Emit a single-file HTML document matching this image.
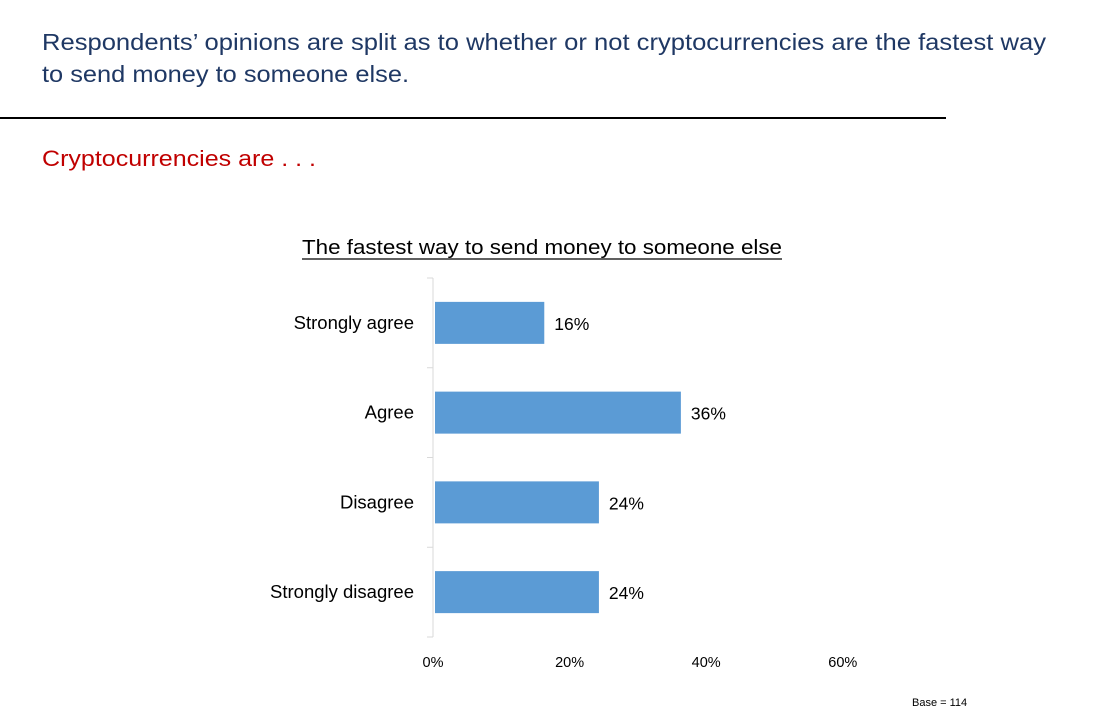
<!DOCTYPE html>
<html><head><meta charset="utf-8"><style>
html,body{margin:0;padding:0;background:#fff;width:1108px;height:728px;overflow:hidden}
svg{display:block;font-family:"Liberation Sans",sans-serif}
</style></head><body>
<svg id="s" width="1108" height="728">
<text x="42" y="50" font-size="23" fill="#1F3864" textLength="1004" lengthAdjust="spacingAndGlyphs">Respondents’ opinions are split as to whether or not cryptocurrencies are the fastest way</text>
<text x="42" y="82" font-size="23" fill="#1F3864" textLength="367" lengthAdjust="spacingAndGlyphs">to send money to someone else.</text>
<line x1="0" y1="118" x2="946" y2="118" stroke="#000" stroke-width="2"/>
<text x="42" y="166" font-size="22" fill="#C00000" textLength="274" lengthAdjust="spacingAndGlyphs">Cryptocurrencies are . . .</text>
<text x="302" y="254" font-size="20" fill="#000" textLength="480" lengthAdjust="spacingAndGlyphs">The fastest way to send money to someone else</text>
<line x1="302" y1="259" x2="782" y2="259" stroke="#000" stroke-width="1.3"/>
<g id="chart"></g>
<text x="912" y="706" font-size="11" fill="#000">Base = 114</text>
</svg>
<script>
const categories=["Strongly agree","Agree","Disagree","Strongly disagree"];
const values=[16,36,24,24];
const ticks=[0,20,40,60];
const ns="http://www.w3.org/2000/svg";
const g=document.getElementById("chart");
const x0=435, pxPer=6.83, yTop=278, band=89.75;
const xs=v=>x0+v*pxPer;
const yc=i=>yTop+band*(i+0.5);
function el(t,a){const e=document.createElementNS(ns,t);for(const k in a)e.setAttribute(k,a[k]);g.appendChild(e);return e;}
const ax=el("line",{x1:433,y1:yTop,x2:433,y2:yTop+band*categories.length,stroke:"#D9D9D9","stroke-width":1});


for(let i=0;i<=categories.length;i++){
  const t=el("line",{x1:427,y1:yTop+band*i,x2:433,y2:yTop+band*i,stroke:"#D9D9D9","stroke-width":1});
  
  
}
categories.forEach((c,i)=>{
  const l=el("text",{x:414,y:yc(i)+6,"font-size":18.5,"text-anchor":"end",fill:"#000"});
  l.textContent=c;
  
  
  const b=el("rect",{x:x0,y:yc(i)-21,width:xs(values[i])-x0,height:42,fill:"#5B9BD5"});
  
  
  const v=el("text",{x:xs(values[i])+10,y:yc(i)+7,"font-size":17.5,fill:"#000"});
  v.textContent=values[i]+"%";
  
  
});
ticks.forEach(t=>{
  const tl=el("text",{x:xs(t)-2,y:667,"font-size":14.5,"text-anchor":"middle",fill:"#000"});
  tl.textContent=t+"%";
  
  
});
</script>
</body></html>
